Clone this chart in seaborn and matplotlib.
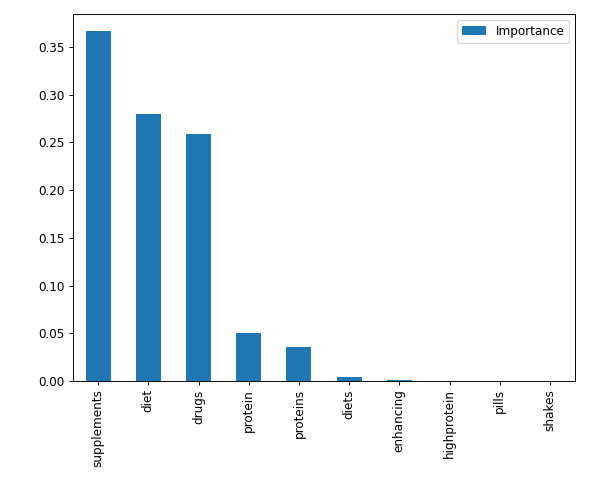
import matplotlib
matplotlib.use("Agg")
import matplotlib.pyplot as plt
import seaborn as sns

words = ["supplements", "diet", "drugs", "protein", "proteins",
         "diets", "enhancing", "highprotein", "pills", "shakes"]
importance = [0.366, 0.280, 0.2585, 0.050, 0.0355, 0.0040, 0.0014, 0.0, 0.0, 0.0]

W, H = 607, 478
DPI = 86
fig = plt.figure(figsize=(W / DPI, H / DPI), dpi=DPI)
ax = fig.add_axes([73 / W, 1 - 381 / H, (575 - 73) / W, (381 - 14) / H])

sns.barplot(x=words, y=importance, color="#1f77b4", saturation=1, width=0.5,
            label="Importance", ax=ax)

ax.set_xlim(-0.5, 9.5)
ax.set_ylim(0, max(importance) * 1.05)
ax.set_yticks([0.0, 0.05, 0.10, 0.15, 0.20, 0.25, 0.30, 0.35])
ax.set_yticklabels(["0.00", "0.05", "0.10", "0.15", "0.20", "0.25", "0.30", "0.35"])
plt.setp(ax.get_xticklabels(), rotation=90)
ax.tick_params(labelsize=10)
ax.legend(loc="upper right")

fig.savefig("out.png", dpi=DPI)
